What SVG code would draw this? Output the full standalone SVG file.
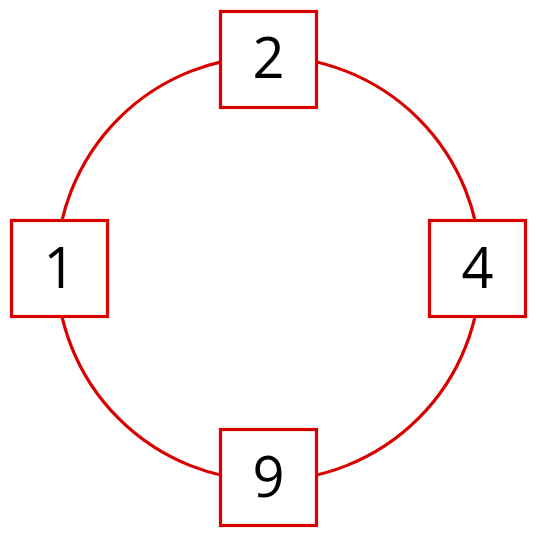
<svg xmlns="http://www.w3.org/2000/svg" width="536" height="536" viewBox="0 0 536 536">
<style>
.box{fill:#fff;stroke:#d90000;stroke-width:3.2}
.lbl{font-family:"Open Sans","Noto Sans","Liberation Sans",sans-serif;font-size:56px;fill:#000;text-anchor:middle}
.edge{fill:none;stroke:#d90000;stroke-width:3.2}
</style>
<rect width="536" height="536" fill="#fff"/>
<g id="connectors">
<circle class="edge" cx="268.5" cy="268.5" r="212"/>
</g>
<g id="node-2"><rect class="box" x="220.5" y="11.5" width="96" height="96"/><text class="lbl" x="268.5" y="78">2</text></g>
<g id="node-1"><rect class="box" x="11.5" y="220.5" width="96" height="96"/><text class="lbl" x="59.5" y="288">1</text></g>
<g id="node-4"><rect class="box" x="429.5" y="220.5" width="96" height="96"/><text class="lbl" x="477.5" y="288">4</text></g>
<g id="node-9"><rect class="box" x="220.5" y="429.5" width="96" height="96"/><text class="lbl" x="268.5" y="497">9</text></g>
</svg>
